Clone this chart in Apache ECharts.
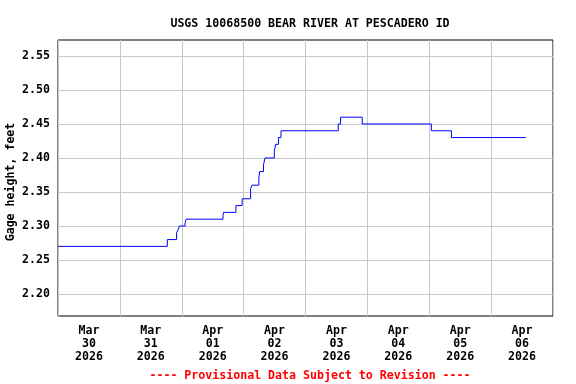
<!DOCTYPE html>
<html>
<head>
<meta charset="utf-8">
<script src="https://cdn.jsdelivr.net/npm/echarts@6/dist/echarts.min.js"></script>
<style>html,body{margin:0;padding:0;background:#fff}#c{width:576px;height:384px}</style>
</head>
<body>
<div id="c"></div>
<script>
var titleText = 'USGS 10068500 BEAR RIVER AT PESCADERO ID';
var footerText = '---- Provisional Data Subject to Revision ----';
var yAxisName = 'Gage height, feet';
var dayLabels = ['Mar\n30\n2026','Mar\n31\n2026','Apr\n01\n2026','Apr\n02\n2026','Apr\n03\n2026','Apr\n04\n2026','Apr\n05\n2026','Apr\n06\n2026'];
var yTicks = [2.20, 2.25, 2.30, 2.35, 2.40, 2.45, 2.50, 2.55];
var times = ['03-30 00:00','03-31 18:24','03-31 22:00','03-31 22:40','03-31 23:06','04-01 01:18','04-01 01:42','04-01 16:00','04-01 16:12','04-01 21:00','04-01 23:24','04-02 02:42','04-02 03:18','04-02 05:54','04-02 06:12','04-02 07:42','04-02 08:18','04-02 11:54','04-02 12:24','04-02 13:30','04-02 14:30','04-03 12:42','04-03 13:36','04-03 22:00','04-05 00:48','04-05 08:36','04-06 13:24'];
var heights = [2.27,2.28,2.29,2.295,2.30,2.305,2.31,2.315,2.32,2.33,2.34,2.355,2.36,2.37,2.38,2.39,2.40,2.41,2.42,2.43,2.44,2.45,2.46,2.45,2.44,2.43,2.43];

function toHours(s){
  var mo = +s.slice(0,2), d = +s.slice(3,5), h = +s.slice(6,8), m = +s.slice(9,11);
  var dayIdx = mo === 3 ? d - 30 : d + 1;
  return dayIdx*24 + h + m/60;
}
var data = times.map(function(t,i){ return [toHours(t), heights[i]]; });

var font = '"DejaVu Sans Mono", monospace';
var chart = echarts.init(document.getElementById('c'), null, {renderer:'canvas'});
chart.setOption({
  animation:false,
  backgroundColor:'#fff',
  title:[
    {text:titleText, left:305, top:13, textAlign:'center', textStyle:{fontFamily:font, fontWeight:'bold', fontSize:11.6, color:'#000'}},
    {text:footerText, left:305, top:365, textAlign:'center', textStyle:{fontFamily:font, fontWeight:'bold', fontSize:11.6, color:'#ff0000'}}
  ],
  graphic:[{type:'text', x:11, y:182, rotation:Math.PI/2,
    style:{text:yAxisName, fontFamily:font, fontWeight:'bold', fontSize:11.6, fill:'#000', align:'center', verticalAlign:'middle'}}],
  grid:{left:58, right:23, top:40, bottom:68, show:true, borderColor:'#000', borderWidth:1, backgroundColor:'transparent', containLabel:false, outerBoundsMode:'none'},
  xAxis:[
    {type:'value', min:0, max:192, interval:24, axisLine:{show:false}, axisTick:{show:false}, axisLabel:{show:false},
     splitLine:{show:true, lineStyle:{color:'#c8c8c8', width:1}}},
    {type:'category', data:dayLabels, boundaryGap:true, position:'bottom', axisLine:{show:false}, axisTick:{show:false},
     splitLine:{show:false},
     axisLabel:{interval:0, margin:8, fontFamily:font, fontWeight:'bold', fontSize:11.6, lineHeight:13, color:'#000', align:'center'}}
  ],
  yAxis:{type:'value', min:2.1676, max:2.5735,
    axisLine:{show:false}, axisTick:{show:false, customValues:yTicks},
    axisLabel:{customValues:yTicks, margin:8, fontFamily:font, fontWeight:'bold', fontSize:11.6, color:'#000', formatter:function(v){return v.toFixed(2);}},
    splitLine:{show:true, lineStyle:{color:'#c8c8c8', width:1}}},
  series:[{type:'line', xAxisIndex:0, data:data, step:'end', showSymbol:false, symbol:'none',
    lineStyle:{color:'#0000ff', width:1}, itemStyle:{color:'#0000ff'}}]
});
</script>
</body>
</html>
